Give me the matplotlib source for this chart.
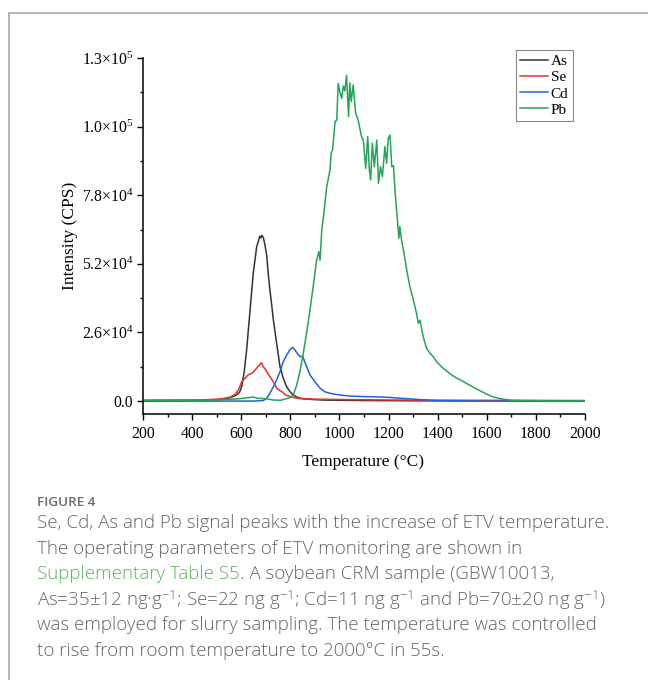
import matplotlib
matplotlib.use("Agg")
import matplotlib.pyplot as plt
from matplotlib.lines import Line2D
from matplotlib.ticker import MultipleLocator, FixedLocator

plt.rcParams['font.family'] = ['Liberation Serif', 'DejaVu Serif']
plt.rcParams['mathtext.fontset'] = 'custom'
plt.rcParams['mathtext.rm'] = 'Liberation Serif'
plt.rcParams['mathtext.it'] = 'Liberation Serif:italic'

# --- data (temperature in degC, intensity in CPS) ---
as_T = [200, 300, 400, 450, 500, 530, 555, 570, 582, 594, 602, 612, 622, 636, 649, 663, 670, 676, 680, 684,
        690, 697, 704, 711, 717, 724, 731, 744, 758, 771, 785, 800, 812, 825, 839, 860, 890, 930, 1000, 1100,
        1300, 1600, 2000]
as_V = [0, 100, 200, 300, 500, 800, 1300, 1800, 2400, 3500, 5500, 11000, 19300, 34500, 48500, 58500, 60500, 62500, 61800, 62800,
        62000, 59000, 55000, 47100, 42000, 36500, 30700, 22000, 13000, 8700, 5400, 3400, 2300, 1600, 1100, 800, 600, 400, 300, 200,
        100, 50, 0]

se_T = [200, 300, 400, 450, 500, 530, 555, 575, 590, 602, 616, 629, 643, 656, 670, 676, 681, 686, 690, 697,
        704, 717, 731, 744, 758, 770, 778, 790, 799, 815, 839, 870, 920, 1000, 1200, 1500, 2000]
se_V = [300, 400, 400, 500, 700, 1000, 1500, 2500, 4500, 7300, 8700, 10000, 10500, 11700, 13300, 13800, 14500, 13900, 13000, 12200,
        11100, 9200, 7300, 4900, 3900, 3300, 2400, 2000, 1700, 1300, 900, 800, 700, 600, 400, 300, 200]

cd_T = [200, 400, 600, 650, 690, 704, 714, 724, 734, 744, 758, 771, 785, 799, 810, 819, 829, 839, 850, 857,
        864, 880, 900, 921, 941, 968, 1002, 1043, 1100, 1150, 1200, 1260, 1320, 1400, 1600, 2000]
cd_V = [0, 0, 0, 0, 200, 1100, 2500, 4200, 6000, 8000, 11100, 14900, 17400, 19600, 20300, 19300, 18000, 16800, 17000, 15300,
        13600, 9900, 7300, 4900, 3500, 2800, 2300, 1900, 1700, 1600, 1400, 1000, 600, 200, 0, 0]

pb_T = [200, 400, 500, 580, 620, 650, 670, 700, 730, 760, 780, 795, 812, 826, 839, 853, 866, 880, 893, 907,
        916, 921, 928, 938, 948, 955, 962, 966, 972, 982, 989, 995, 1002, 1009, 1016, 1022, 1029, 1037, 1042, 1048,
        1056, 1066, 1076, 1090, 1097, 1107, 1115, 1122, 1127, 1134, 1142, 1152, 1159, 1167, 1175, 1185, 1192, 1199, 1206, 1213,
        1220, 1226, 1235, 1242, 1246, 1253, 1263, 1274, 1287, 1301, 1314, 1321, 1328, 1341, 1355, 1369, 1382, 1396, 1409, 1423,
        1443, 1460, 1480, 1500, 1525, 1550, 1575, 1600, 1625, 1650, 1675, 1700, 1750, 1850, 2000]
pb_V = [300, 300, 400, 800, 1200, 1500, 1000, 900, 400, 300, 800, 1200, 2300, 6100, 11100, 18200, 25700, 34500, 43300, 53400,
        56600, 53400, 64800, 72400, 81200, 84400, 88000, 93900, 95100, 105900, 106500, 120400, 117000, 114700, 119400, 117500, 123500, 107800, 120600, 113500,
        119800, 109000, 106500, 100200, 98900, 88200, 100200, 87500, 83800, 97700, 88800, 98900, 82500, 88800, 85000, 96400, 90100, 99600, 100800, 88800,
        89200, 80000, 69900, 61700, 66100, 61000, 56000, 49600, 43300, 38300, 33200, 29400, 30700, 24400, 20000, 18100, 16800, 14900, 13600, 12400,
        10900, 9700, 8600, 7600, 6300, 5000, 3800, 2600, 1600, 1000, 600, 300, 200, 100, 100]

series = [("As", as_T, as_V, "#333333"),
          ("Se", se_T, se_V, "#e8302a"),
          ("Cd", cd_T, cd_V, "#1d64de"),
          ("Pb", pb_T, pb_V, "#25a35a")]

y_ticks = [0, 26000, 52000, 78000, 104000, 130000]
y_labels = ["0.0", "2.6×10$^{4}$", "5.2×10$^{4}$", "7.8×10$^{4}$", "1.0×10$^{5}$", "1.3×10$^{5}$"]

caption_head = "FIGURE 4"
sup = r"$^{\mathdefault{-1}}$"
caption_lines = [
    "Se, Cd, As and Pb signal peaks with the increase of ETV temperature.",
    "The operating parameters of ETV monitoring are shown in",
    None,
    "As=35±12 ng·g" + sup + "; Se=22 ng g" + sup + "; Cd=11 ng g" + sup + " and Pb=70±20 ng g" + sup + ")",
    "was employed for slurry sampling. The temperature was controlled",
    "to rise from room temperature to 2000°C in 55s.",
]
link_text = "Supplementary Table S5"
link_rest = ". A soybean CRM sample (GBW10013,"

W, H = 648, 680
fig = plt.figure(figsize=(W / 100, H / 100), dpi=100)
ax = fig.add_axes([143 / W, 1 - 414 / H, (585 - 143) / W, (414 - 58) / H])

for name, t, v, c in series:
    ax.plot(t, v, color=c, lw=1.1, label=name)

ax.set_xlim(200, 2000)
ax.set_ylim(-4900, 130000)
ax.xaxis.set_major_locator(MultipleLocator(200))
ax.xaxis.set_minor_locator(MultipleLocator(100))
ax.yaxis.set_major_locator(FixedLocator(y_ticks))
ax.yaxis.set_minor_locator(FixedLocator([13000, 39000, 65000, 91000, 117000]))
ax.set_yticklabels(y_labels)

for s in ["top", "right"]:
    ax.spines[s].set_visible(False)
for s in ["left", "bottom"]:
    ax.spines[s].set_linewidth(1.1)
ax.tick_params(which="major", direction="out", length=4, width=1.0, labelsize=11.3, pad=3)
ax.tick_params(which="minor", direction="out", length=2.5, width=1.0)
ax.tick_params(axis="x", which="major", pad=5)

ax.set_xlabel("Temperature (°C)", fontsize=12.5)
ax.set_ylabel("Intensity (CPS)", fontsize=12.5)
ax.xaxis.set_label_coords(0.498, -0.112)
ax.yaxis.set_label_coords(-0.147, 0.5)

leg = fig.legend(loc="upper right", bbox_to_anchor=(573 / W, 1 - 50 / H), fontsize=11,
                 frameon=True, fancybox=False, edgecolor="#888888", framealpha=1,
                 handlelength=1.8, handletextpad=0.2, labelspacing=0.16, borderpad=0.3,
                 borderaxespad=0)
leg.get_frame().set_linewidth(0.8)

# page frame (top and left border)
fig.add_artist(Line2D([9 / W, 1], [1 - 13 / H, 1 - 13 / H], color="#b4b4b4", lw=1.4))
fig.add_artist(Line2D([9 / W, 9 / W], [0, 1 - 13 / H], color="#b4b4b4", lw=1.4))

# caption
cap_font = ["Open Sans", "DejaVu Sans"]
cap_size = 13.5
cap_color = "#656565"
fig.text(37 / W, 1 - 503 / H, caption_head, fontsize=9.7, family=cap_font, weight="semibold",
         color="#6a6a6a", va="center")
y0, dy = 523, 25.6
for i, line in enumerate(caption_lines):
    yy = 1 - (y0 + i * dy) / H
    if line is None:
        t1 = fig.text(37 / W, yy, link_text, fontsize=cap_size, family=cap_font, weight="light",
                      color="#5cb35c", va="center")
        fig.canvas.draw()
        bb = t1.get_window_extent()
        fig.text(bb.x1 / W, yy, link_rest, fontsize=cap_size, family=cap_font, weight="light",
                 color=cap_color, va="center")
    else:
        fig.text(37 / W, yy, line, fontsize=cap_size, family=cap_font, weight="light",
                 color=cap_color, va="center")

fig.savefig("out.png", dpi=100)
